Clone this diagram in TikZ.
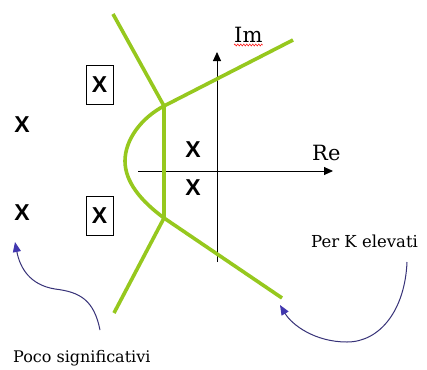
\documentclass[tikz,border=0pt]{standalone}
\usepackage{fontspec}
\setmainfont{DejaVu Serif}
\newfontfamily\xfont{Liberation Sans}
\usetikzlibrary{arrows.meta,decorations.pathmorphing}
\definecolor{locus}{RGB}{150,200,30}
\definecolor{pointer}{RGB}{55,50,120}
\definecolor{pointerhead}{RGB}{65,55,175}
\tikzset{
  locusline/.style={draw=locus,line width=3.6pt,line join=round},
  axisline/.style={draw=black,line width=0.9pt,-{Triangle[length=9pt,width=8pt]}},
  pole/.style={font=\xfont\bfseries\fontsize{23}{23}\selectfont,inner sep=0pt},
  boxpole/.style={pole,draw=black,line width=0.8pt,minimum width=27pt,minimum height=39pt},
  lbl/.style={inner sep=0pt,anchor=base west},
  pointerline/.style={draw=pointer,line width=1pt,-{Triangle[length=10pt,width=8pt,fill=pointerhead,color=pointerhead]}}
}
\begin{document}
\begin{tikzpicture}[x=1pt,y=-1pt]
\useasboundingbox[fill=white] (0,0) rectangle (427,369);
% axes
\coordinate (xl) at (138,171);
\coordinate (xr) at (333,171);
\coordinate (yb) at (217,262);
\coordinate (yt) at (217,52);
\draw[axisline] (xl) -- (xr);
\draw[axisline] (yb) -- (yt);
% root locus
\coordinate (ul) at (113,14);
\coordinate (ju) at (164,106);
\coordinate (jl) at (164,218);
\coordinate (ll) at (114,313);
\coordinate (ue) at (293,40);
\coordinate (le) at (282,298);
\draw[locusline] (ul) -- (ju) -- (jl) -- (ll);
\draw[locusline] (ue) -- (ju) .. controls (141,118) and (125,140) .. (125,161)
  .. controls (125,182) and (141,201) .. (jl) -- (le);
% poles
\node[pole] (p1) at (22,125) {X};
\node[pole] (p2) at (22,213) {X};
\node[boxpole] (p3) at (99.5,85) {X};
\node[boxpole] (p4) at (99.5,215.5) {X};
\node[pole] (p5) at (193,150) {X};
\node[pole] (p6) at (193,188) {X};
% labels
\node[lbl,font=\fontsize{21}{21}\selectfont] (im) at (234,42) {Im};
\draw[red,line width=0.5pt,decorate,decoration={zigzag,amplitude=1pt,segment length=3pt}] ([yshift=-3pt]im.base west) -- ([yshift=-3pt]im.base east);
\node[lbl,font=\fontsize{21}{21}\selectfont] (re) at (312,160) {Re};
\node[lbl,font=\fontsize{16.5}{16.5}\selectfont] (pk) at (311,247) {Per K elevati};
\node[lbl,font=\fontsize{16}{16}\selectfont] (ps) at (13,362) {Poco significativi};
% pointers
\coordinate (s1) at (100,330);
\coordinate (t1) at (15,242);
\draw[pointerline] (s1) .. controls (94,300) and (80,292) .. (55,289)
  .. controls (30,285) and (20,268) .. (t1);
\coordinate (s2) at (407,262);
\coordinate (t2) at (280,305);
\draw[pointerline] (s2) .. controls (405,310) and (380,342) .. (347,342)
  .. controls (315,342) and (292,325) .. (t2);
\end{tikzpicture}
\end{document}
